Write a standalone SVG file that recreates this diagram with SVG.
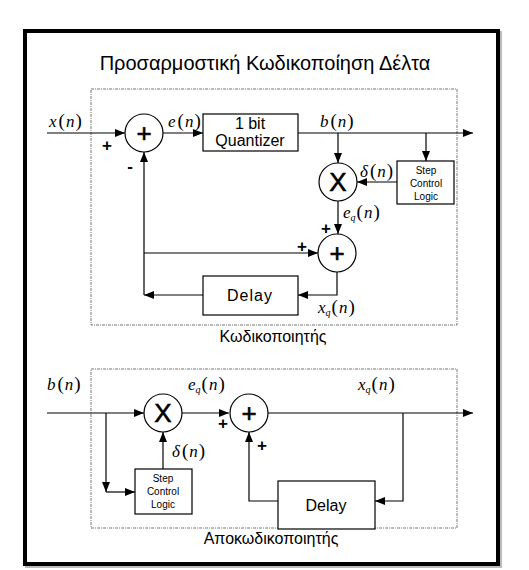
<svg xmlns="http://www.w3.org/2000/svg" width="529" height="570" viewBox="0 0 529 570">
<defs>
<marker id="ah" viewBox="0 0 10 8" refX="10" refY="4" markerWidth="10" markerHeight="8" markerUnits="userSpaceOnUse" orient="auto">
<path d="M0,0 L10,4 L0,8 Z" fill="#000"/>
</marker>
<style>
.ln{fill:none;stroke:#000;stroke-width:1.2}
.ar{fill:none;stroke:#000;stroke-width:1.2;marker-end:url(#ah)}
.bx{fill:#fff;stroke:#000;stroke-width:1.2}
.dash{fill:none;stroke:#666;stroke-width:0.9;stroke-dasharray:3 1 1 1}
.sans{font-family:"Liberation Sans",Arial,sans-serif;fill:#000}
.t16{font-size:16px;text-anchor:middle}
.t10{font-size:10px;text-anchor:middle}
.sym{font-family:"Liberation Sans",Arial,sans-serif;font-size:26px;text-anchor:middle;fill:#000;stroke:#000;stroke-width:0.6}
.pm{font-family:"Liberation Sans",Arial,sans-serif;font-size:17px;font-weight:bold;text-anchor:middle;fill:#000}
.m{font-family:"Liberation Serif","Times New Roman",serif;font-size:17px;fill:#000}
.i{font-style:italic}
.p{font-size:19px}
.sub{font-size:10px;font-style:italic}
</style>
</defs>
<rect x="27" y="33" width="473" height="533" fill="none" stroke="#bbb" stroke-width="4"/>
<rect x="25" y="31" width="473" height="533" fill="#fff" stroke="#000" stroke-width="4"/>
<text class="sans" x="265" y="70" font-size="20" text-anchor="middle">Προσαρμοστική Κωδικοποίηση Δέλτα</text>

<rect class="dash" x="91" y="89" width="366" height="236"/>
<rect class="dash" x="91" y="369" width="366" height="159"/>
<text class="sans t16" x="273" y="342">Κωδικοποιητής</text>
<text class="sans t16" x="271" y="544">Αποκωδικοποιητής</text>

<g id="connectors">
<path class="ar" d="M47,133 H125"/>
<path class="ar" d="M163,133 H203"/>
<path class="ar" d="M298,133 H473"/>
<path class="ar" d="M338,133 V163"/>
<path class="ar" d="M426,133 V161"/>
<path class="ar" d="M397,182 H357"/>
<path class="ar" d="M338,201 V234"/>
<path class="ar" d="M144,253 H318"/>
<path class="ar" d="M337,272 V295 H298"/>
<path class="ar" d="M203,295 H144"/>
<path class="ar" d="M144,295 V152"/>

<path class="ar" d="M47,413 H144"/>
<path class="ar" d="M182,413 H229"/>
<path class="ar" d="M268,413 H473"/>
<path class="ar" d="M106,413 V492"/>
<path class="ar" d="M106,492 H135"/>
<path class="ar" d="M163,469 V432"/>
<path class="ar" d="M278,501 H249 V432"/>
<path class="ar" d="M403,413 V501 H375"/>
</g>

<g id="sum1"><circle class="bx" cx="144" cy="133" r="19"/><text class="sym" x="144" y="142">+</text></g>
<g id="quantizer"><rect class="bx" x="203" y="114" width="95" height="37"/><text class="sans t16" x="250" y="129">1 bit</text><text class="sans t16" x="250" y="146">Quantizer</text></g>
<g id="mult1"><circle class="bx" cx="338" cy="182" r="19"/><text class="sym" x="338" y="191">X</text></g>
<g id="step1"><rect class="bx" x="397" y="161" width="57" height="43"/><text class="sans t10" x="426" y="174">Step</text><text class="sans t10" x="426" y="187">Control</text><text class="sans t10" x="426" y="200">Logic</text></g>
<g id="sum2"><circle class="bx" cx="337" cy="253" r="19"/><text class="sym" x="337" y="262">+</text></g>
<g id="delay1"><rect class="bx" x="203" y="276" width="95" height="39"/><text class="sans t16" x="250" y="301" letter-spacing="1">Delay</text></g>

<g id="mult2"><circle class="bx" cx="163" cy="413" r="19"/><text class="sym" x="163" y="422">X</text></g>
<g id="sum3"><circle class="bx" cx="249" cy="413" r="19"/><text class="sym" x="249" y="422">+</text></g>
<g id="step2"><rect class="bx" x="135" y="469" width="57" height="45"/><text class="sans t10" x="163" y="482">Step</text><text class="sans t10" x="163" y="495">Control</text><text class="sans t10" x="163" y="508">Logic</text></g>
<g id="delay2"><rect class="bx" x="278" y="481" width="97" height="48"/><text class="sans t16" x="326" y="511">Delay</text></g>

<g id="labels">
<text class="m" x="49" y="127"><tspan class="i">x</tspan><tspan class="p" dx="2">(</tspan><tspan class="i" dx="1">n</tspan><tspan class="p" dx="1">)</tspan></text>
<text class="pm" x="107" y="151">+</text>
<text class="pm" x="130" y="172">-</text>
<text class="m" x="168" y="127"><tspan class="i">e</tspan><tspan class="p" dx="2">(</tspan><tspan class="i" dx="1">n</tspan><tspan class="p" dx="1">)</tspan></text>
<text class="m" x="320" y="127"><tspan class="i">b</tspan><tspan class="p" dx="2">(</tspan><tspan class="i" dx="1">n</tspan><tspan class="p" dx="1">)</tspan></text>
<text class="m" x="360" y="177"><tspan class="i">δ</tspan><tspan class="p" dx="2">(</tspan><tspan class="i" dx="1">n</tspan><tspan class="p" dx="1">)</tspan></text>
<text class="m" x="343" y="218"><tspan class="i">e</tspan><tspan class="sub" dy="3">q</tspan><tspan class="p" dy="-3" dx="1">(</tspan><tspan class="i" dx="1">n</tspan><tspan class="p" dx="1">)</tspan></text>
<text class="pm" x="326" y="234">+</text>
<text class="pm" x="302" y="252">+</text>
<text class="m" x="318" y="313"><tspan class="i">x</tspan><tspan class="sub" dy="3">q</tspan><tspan class="p" dy="-3" dx="1">(</tspan><tspan class="i" dx="1">n</tspan><tspan class="p" dx="1">)</tspan></text>

<text class="m" x="47" y="390"><tspan class="i">b</tspan><tspan class="p" dx="2">(</tspan><tspan class="i" dx="1">n</tspan><tspan class="p" dx="1">)</tspan></text>
<text class="m" x="188" y="390"><tspan class="i">e</tspan><tspan class="sub" dy="3">q</tspan><tspan class="p" dy="-3" dx="1">(</tspan><tspan class="i" dx="1">n</tspan><tspan class="p" dx="1">)</tspan></text>
<text class="m" x="358" y="390"><tspan class="i">x</tspan><tspan class="sub" dy="3">q</tspan><tspan class="p" dy="-3" dx="1">(</tspan><tspan class="i" dx="1">n</tspan><tspan class="p" dx="1">)</tspan></text>
<text class="pm" x="223" y="429">+</text>
<text class="pm" x="262" y="451">+</text>
<text class="m" x="172" y="457"><tspan class="i">δ</tspan><tspan class="p" dx="2">(</tspan><tspan class="i" dx="1">n</tspan><tspan class="p" dx="1">)</tspan></text>
</g>
</svg>
